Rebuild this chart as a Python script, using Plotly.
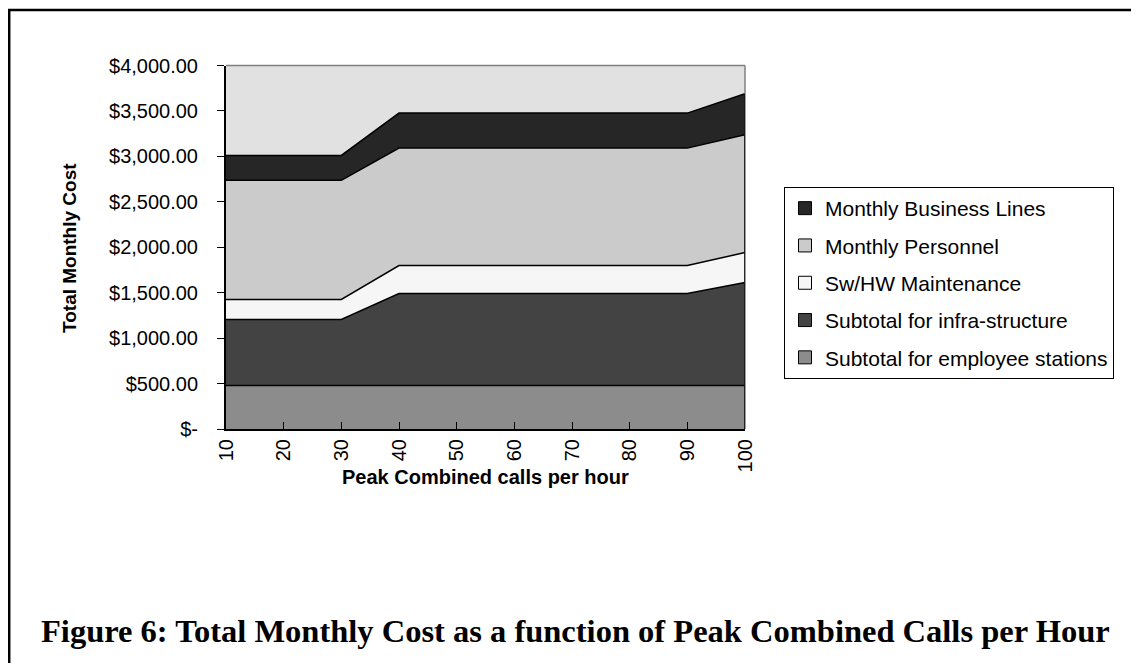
import plotly.graph_objects as go

# Peak combined calls per hour (category axis)
calls = [10, 20, 30, 40, 50, 60, 70, 80, 90, 100]

# monthly cost components, stacked bottom -> top
employee_stations = [480, 480, 480, 480, 480, 480, 480, 480, 480, 480]
infra_structure = [725, 725, 725, 1011, 1011, 1011, 1011, 1011, 1011, 1132]
sw_hw_maint = [220, 220, 220, 308, 308, 308, 308, 308, 308, 330]
personnel = [1311, 1311, 1311, 1292, 1292, 1292, 1292, 1292, 1292, 1296]
business_lines = [275, 275, 275, 385, 385, 385, 385, 385, 385, 451]

series = [
    ("Subtotal for employee stations", employee_stations, "#8c8c8c"),
    ("Subtotal for infra-structure", infra_structure, "#434343"),
    ("Sw/HW Maintenance", sw_hw_maint, "#f6f6f6"),
    ("Monthly Personnel", personnel, "#cbcbcb"),
    ("Monthly Business Lines", business_lines, "#262626"),
]

y_ticks = [0, 500, 1000, 1500, 2000, 2500, 3000, 3500, 4000]
y_labels = ["$-" if v == 0 else f"${v:,.2f}" for v in y_ticks]

# figure is placed at (8, 8) in the page by the body margin
W, H = 1123, 655
OFF = 8


def sx(px):
    return (px - OFF) / W


def sy(py):
    return 1 - (py - OFF) / H


# plot box in page pixels
px_l, px_r, px_t, px_b = 226, 745, 65.5, 429

fig = go.Figure()

for name, vals, col in series:
    fig.add_trace(go.Scatter(
        x=calls, y=vals, mode="lines", stackgroup="one",
        fillcolor=col, line=dict(color="black", width=1.5),
        name=name, showlegend=False, hoverinfo="skip",
    ))

# legend entries drawn as small squares, top entry = top of stack
for i, (name, vals, col) in enumerate(reversed(series)):
    fig.add_trace(go.Scatter(
        x=[None], y=[None], mode="markers", name=name,
        legendgroup=f"g{i}",
        marker=dict(symbol="square", size=13, color=col,
                    line=dict(color="black", width=1)),
    ))

totals = [sum(s[1][i] for s in series) for i in range(len(calls))]

fig.update_layout(
    width=W, height=H,
    template="none",
    margin=dict(l=0, r=0, t=0, b=0, autoexpand=False),
    paper_bgcolor="white",
    plot_bgcolor="#e1e1e1",
    font=dict(family="Liberation Sans, Arial, sans-serif", size=20, color="black"),
    xaxis=dict(
        domain=[sx(px_l), sx(px_r)],
        range=[calls[0], calls[-1]],
        tickvals=calls, ticktext=[str(c) for c in calls],
        tickangle=-90, ticks="inside", ticklen=7, tickcolor="black",
        ticklabelstandoff=0,
        showline=True, linecolor="black", linewidth=2,
        showgrid=False, zeroline=False, fixedrange=True, automargin=False,
        tickfont=dict(size=20),
    ),
    yaxis=dict(
        domain=[sy(px_b), sy(px_t)],
        range=[0, 4000],
        tickvals=y_ticks, ticktext=y_labels,
        ticks="outside", ticklen=7, tickcolor="black",
        ticklabelstandoff=15,
        showline=True, linecolor="black", linewidth=2,
        showgrid=False, zeroline=False, fixedrange=True, automargin=False,
        tickfont=dict(size=20),
    ),
    legend=dict(
        x=sx(784), y=sy(187), xanchor="left", yanchor="top",
        traceorder="grouped", tracegroupgap=7,
        bgcolor="white", bordercolor="black", borderwidth=1,
        font=dict(size=21), itemwidth=30,
    ),
    shapes=[
        # grey plot-area border on top and right
        dict(type="line", xref="paper", yref="paper",
             x0=sx(px_l), x1=sx(px_r), y0=sy(px_t), y1=sy(px_t),
             line=dict(color="#808080", width=1.5)),
        dict(type="line", xref="paper", yref="paper",
             x0=sx(px_r), x1=sx(px_r), y0=sy(px_b), y1=sy(px_t),
             line=dict(color="#808080", width=1.5)),
        # black edge of the stacked areas at the last category
        dict(type="line", xref="x", yref="y",
             x0=calls[-1], x1=calls[-1], y0=0, y1=totals[-1],
             line=dict(color="black", width=1.5)),
        # page frame
        dict(type="line", xref="paper", yref="paper",
             x0=sx(8), x1=1, y0=sy(10), y1=sy(10),
             line=dict(color="black", width=2.5)),
        dict(type="line", xref="paper", yref="paper",
             x0=sx(9.2), x1=sx(9.2), y0=0, y1=sy(10),
             line=dict(color="black", width=2.5)),
    ],
    annotations=[
        dict(text="<b>Total Monthly Cost</b>", textangle=-90,
             xref="paper", yref="paper", x=sx(70), y=sy(248),
             xanchor="center", yanchor="middle",
             showarrow=False, font=dict(size=19)),
        dict(text="<b>Peak Combined calls per hour</b>",
             xref="paper", yref="paper", x=sx((px_l + px_r) / 2), y=sy(477),
             xanchor="center", yanchor="middle",
             showarrow=False, font=dict(size=20)),
        dict(text="<b>Figure 6: Total Monthly Cost as a function of Peak Combined Calls per Hour</b>",
             xref="paper", yref="paper", x=sx(575), y=sy(631),
             xanchor="center", yanchor="middle",
             showarrow=False,
             font=dict(family="Liberation Serif, Times New Roman, serif", size=32.5)),
    ],
)

fig.write_html("out.html")
